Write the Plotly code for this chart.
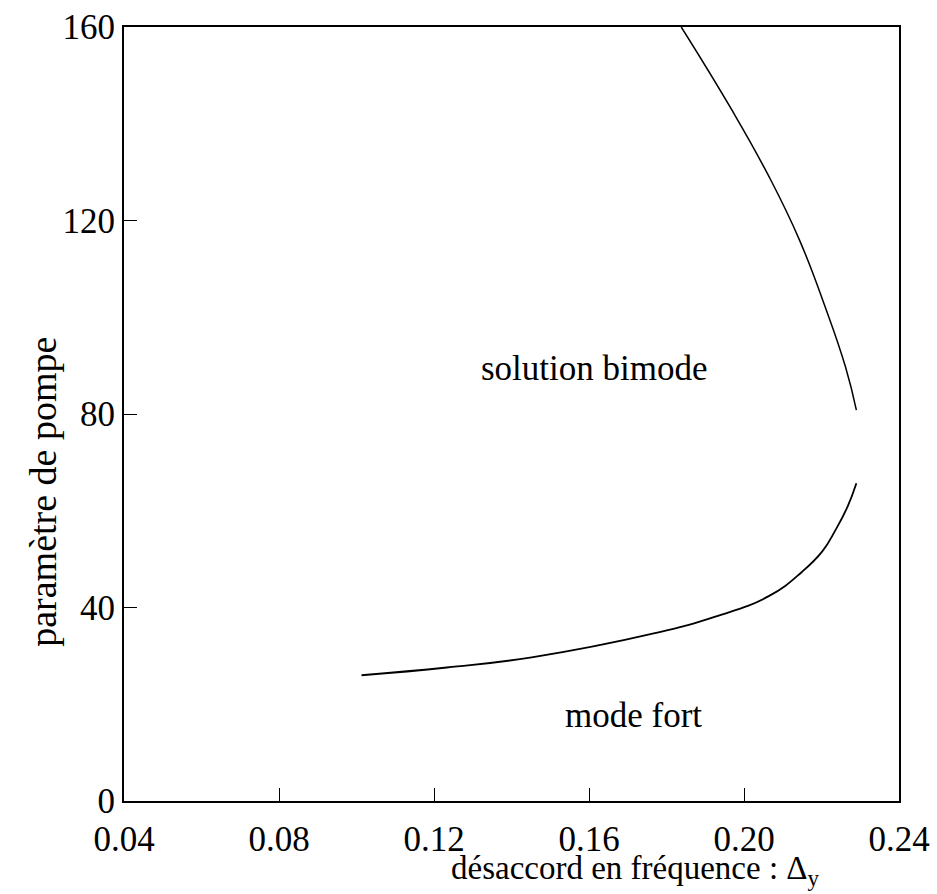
import plotly.graph_objects as go

# Boundary curves in the (detuning, pump parameter) plane
upper_detuning = [0.1838, 0.1969, 0.2065, 0.2143, 0.2210, 0.2262, 0.2290]
upper_pump = [160.0, 142.8, 129.0, 116.0, 102.0, 89.7, 80.8]

lower_detuning = [0.1013, 0.1233, 0.1452, 0.1770, 0.1926, 0.2065, 0.2150,
                  0.2202, 0.2236, 0.2267, 0.2290]
lower_pump = [26.0, 27.6, 29.7, 34.7, 38.1, 42.4, 47.4, 51.6, 56.0, 60.8, 65.7]

x_ticks = [0.04, 0.08, 0.12, 0.16, 0.20, 0.24]
x_tick_labels = ["0.04", "0.08", "0.12", "0.16", "0.20", "0.24"]
y_ticks = [0, 40, 80, 120, 160]
y_tick_labels = ["0", "40", "80", "120", "160"]

x_title = "désaccord en fréquence : Δ<sub>y</sub>"
y_title = "paramètre de pompe"

FONT = "Liberation Serif"

fig = go.Figure()
fig.add_trace(go.Scatter(x=upper_detuning, y=upper_pump, mode="lines",
                         line=dict(color="black", width=1.5, shape="spline",
                                   smoothing=1.3),
                         showlegend=False))
fig.add_trace(go.Scatter(x=lower_detuning, y=lower_pump, mode="lines",
                         line=dict(color="black", width=1.8, shape="spline",
                                   smoothing=1.3),
                         showlegend=False))

# Region labels
fig.add_annotation(x=0.1615, y=89.5, text="solution bimode", showarrow=False,
                   font=dict(family=FONT, size=35, color="black"))
fig.add_annotation(x=0.1716, y=17.6, text="mode fort", showarrow=False,
                   font=dict(family=FONT, size=35, color="black"))

# Axis titles, placed in paper coordinates
fig.add_annotation(xref="paper", yref="paper", x=0.66, y=-0.1175,
                   xanchor="center", yanchor="bottom", showarrow=False,
                   text=x_title, borderpad=0,
                   font=dict(family=FONT, size=33, color="black"))
fig.add_annotation(xref="paper", yref="paper", x=-0.104, y=0.40,
                   xanchor="center", yanchor="middle", showarrow=False,
                   textangle=-90, text=y_title,
                   font=dict(family=FONT, size=38, color="black"))

axis_common = dict(
    showgrid=False, zeroline=False, showline=True, linecolor="black",
    linewidth=2, mirror=True, ticks="inside", tickcolor="black",
    tickwidth=1, ticklen=13, automargin=False,
    tickfont=dict(family=FONT, size=35, color="black"),
)

fig.update_xaxes(range=[0.04, 0.24], tickvals=x_ticks, ticktext=x_tick_labels,
                 ticklabelstandoff=6, **axis_common)
fig.update_yaxes(range=[0, 160], tickvals=y_ticks, ticktext=y_tick_labels,
                 **axis_common)

fig.update_layout(
    width=937, height=894,
    margin=dict(l=124, r=38, t=27, b=93),
    paper_bgcolor="white", plot_bgcolor="white",
)

fig.write_html("out.html")
